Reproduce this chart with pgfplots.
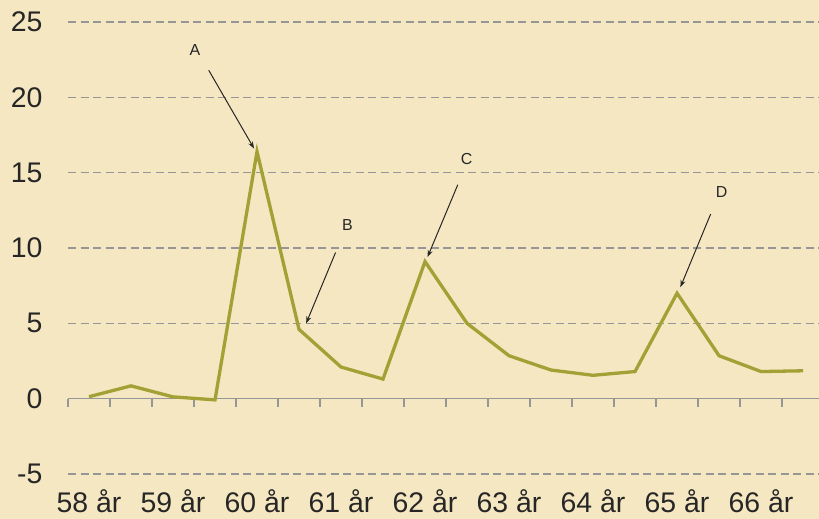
\documentclass[border=0pt]{standalone}
\usepackage{fontspec}
\setmainfont{Liberation Sans}
\usepackage{pgfplots}
\pgfplotsset{compat=1.18}
\usetikzlibrary{arrows.meta}

\definecolor{bgbeige}{RGB}{245,231,193}
\definecolor{olive}{RGB}{161,161,53}
\definecolor{gridgray}{RGB}{150,150,150}

\begin{document}
\begin{tikzpicture}
  \fill[bgbeige] (0,0) rectangle (819bp,519bp);
  \begin{axis}[
    at={(68bp,45bp)}, anchor=south west,
    scale only axis,
    width=751bp, height=452bp,
    xmin=-0.5, xmax=17.38,
    ymin=-5, ymax=25,
    ytick={-5,0,...,25},
    xtick={0,2,...,16},
    xticklabels={58 år,59 år,60 år,61 år,62 år,63 år,64 år,65 år,66 år},
    axis line style={draw=none},
    tick style={draw=none},
    ymajorgrids,
    grid style={gridgray, line width=1.2bp, dash pattern=on 8bp off 4.5bp},
    tick label style={font=\fontsize{28.5}{30}\selectfont, text=black!85},
    /pgf/number format/assume math mode=true,
    yticklabel style={xshift=-22bp},
    xticklabel style={yshift=-12bp},
    clip=false,
  ]
    % x axis at zero with category ticks
    \draw[gridgray, line width=1.2bp] (axis cs:-0.5,0) -- (axis cs:17.38,0);
    \pgfplotsinvokeforeach{-0.5,0.5,...,16.5}{
      \draw[gridgray, line width=1.2bp] (axis cs:#1,0) -- (axis cs:#1,-0.55);
    }
    \addplot[olive, line width=3.3bp, line join=miter, no markers] coordinates {
      (0,0.13) (1,0.85) (2,0.12) (3,-0.08) (4,16.4) (5,4.6)
      (6,2.1) (7,1.3) (8,9.1) (9,5.0) (10,2.85) (11,1.9)
      (12,1.55) (13,1.8) (14,7.0) (15,2.85) (16,1.8) (17,1.85)
    };
    \begin{scope}[font=\fontsize{16}{18}\selectfont, text=black!85]
      \node at (axis cs:2.52,23.15) {A};
      \node at (axis cs:6.15,11.5) {B};
      \node at (axis cs:8.99,15.9) {C};
      \node at (axis cs:15.06,13.7) {D};
    \end{scope}
    \begin{scope}[black!85, line width=1bp, -{Stealth[length=7bp,width=5bp]}]
      \draw (axis cs:2.85,21.8) -- (axis cs:3.93,16.6);
      \draw (axis cs:5.87,9.7) -- (axis cs:5.17,5.0);
      \draw (axis cs:8.78,14.2) -- (axis cs:8.06,9.4);
      \draw (axis cs:14.8,12.25) -- (axis cs:14.08,7.4);
    \end{scope}
  \end{axis}
  \pgfresetboundingbox
  \useasboundingbox (0,0) rectangle (819bp,519bp);
\end{tikzpicture}
\end{document}
